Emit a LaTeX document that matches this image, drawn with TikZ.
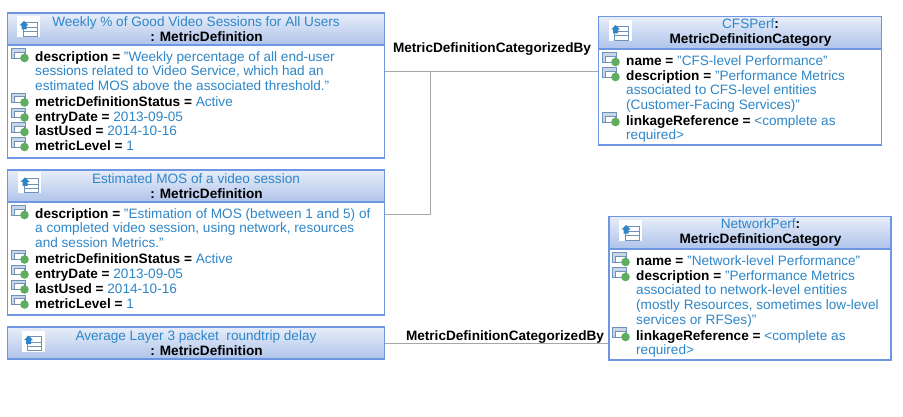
\documentclass[tikz,border=0pt]{standalone}
\usepackage{fontspec}
\setmainfont{Liberation Sans}
\definecolor{linkblue}{HTML}{2E86C8}
\definecolor{boxblue}{HTML}{6F96E2}
\definecolor{headtop}{HTML}{E8EEF9}
\definecolor{headbottom}{HTML}{AFC3EA}
\definecolor{connectgray}{HTML}{A6A6A6}
\definecolor{icongray}{HTML}{6F93B8}
\definecolor{iconfill}{HTML}{C9D6E8}
\definecolor{icongreen}{HTML}{5FAE5F}
\newcommand{\val}[1]{\textcolor{linkblue}{#1}}
\newcommand{\iconroom}{\hspace*{21pt}}
\tikzset{
    header/.style={draw=boxblue, line width=1.4pt, top color=headtop, bottom color=headbottom, minimum height=32pt, inner sep=0pt, align=center, font=\fontsize{13.6}{14.9}\selectfont},
    body/.style={draw=boxblue, line width=1.2pt, fill=white, inner sep=0pt},
    attr/.style={anchor=north west, inner sep=0pt, align=left, font=\fontsize{13.6}{14.9}\selectfont, execute at begin node=\strut},
    connect/.style={draw=connectgray, line width=1pt},
    assoc/.style={inner sep=0pt, font=\fontsize{13.6}{14.9}\selectfont\bfseries},
    pics/attricon/.style={code={
        \draw[icongray, fill=iconfill, line width=0.9pt] (-24,-2.5) rectangle (-10,7);
        \draw[icongray, fill=white, line width=0.7pt] (-21,1) rectangle (-11,7);
        \fill[icongreen] (-10.5,7) circle (4.3);
    }},
    pics/classicon/.style={code={
        \fill[white] (-11.5,-10.5) rectangle (11.5,10.5);
        \draw[icongray, fill=white, line width=0.9pt] (-5.5,-4.5) rectangle (8.5,9.5);
        \draw[icongray, line width=0.9pt] (-5.5,1) -- (8.5,1);
        \draw[icongray, line width=0.9pt] (-5.5,5) -- (8.5,5);
        \fill[linkblue] (-9,-1) -- (-4.5,-5.5) -- (0,-1) -- (-2,-1) -- (-2,3) -- (-7,3) -- (-7,-1) -- cycle;
    }},
}
\begin{document}
\begin{tikzpicture}[x=1pt, y=-1pt]
    \useasboundingbox (0,0) rectangle (903,417);

    % metric definitions
    \node[body, minimum width=376.5pt, minimum height=114pt] (oneBody) at (196,101) {};
    \node[header, minimum width=376.5pt] (oneHead) at (196,29) {\val{Weekly \% of Good Video Sessions for All Users}\\\iconroom\textbf{: MetricDefinition}};
    \node[body, minimum width=376.5pt, minimum height=113pt] (twoBody) at (196,258.5) {};
    \node[header, minimum width=376.5pt] (twoHead) at (196,186) {\val{Estimated MOS of a video session}\\\iconroom\textbf{: MetricDefinition}};
    \node[header, minimum width=376.5pt] (avgHead) at (196,343) {\val{Average Layer 3 packet\ \ roundtrip delay}\\\iconroom\textbf{: MetricDefinition}};

    % categories
    \node[body, minimum width=282.5pt, minimum height=96pt] (cfsBody) at (740,97) {};
    \node[header, minimum width=282.5pt] (cfsHead) at (740,32.5) {\iconroom\val{CFSPerf}\textbf{:}\\\iconroom\textbf{MetricDefinitionCategory}};
    \node[body, minimum width=282pt, minimum height=111pt] (netBody) at (750,304.5) {};
    \node[header, minimum width=282pt] (netHead) at (750,232.5) {\iconroom\val{NetworkPerf}\textbf{:}\\\iconroom\textbf{MetricDefinitionCategory}};

    % attributes
    \node[attr] (oneDesc) at (35,51) {\textbf{description =} \val{"Weekly percentage of all end-user}\\\val{sessions related to Video Service, which had an}\\\val{estimated MOS above the associated threshold."}};
    \node[attr] (oneStatus) at (35,95.5) {\textbf{metricDefinitionStatus =} \val{Active}};
    \node[attr] (oneEntry) at (35,110.5) {\textbf{entryDate =} \val{2013-09-05}};
    \node[attr] (oneUsed) at (35,125) {\textbf{lastUsed =} \val{2014-10-16}};
    \node[attr] (oneLevel) at (35,140) {\textbf{metricLevel =} \val{1}};

    \node[attr] (twoDesc) at (35,208) {\textbf{description =} \val{"Estimation of MOS (between 1 and 5) of}\\\val{a completed video session, using network, resources}\\\val{and session Metrics."}};
    \node[attr] (twoStatus) at (35,252.5) {\textbf{metricDefinitionStatus =} \val{Active}};
    \node[attr] (twoEntry) at (35,267.5) {\textbf{entryDate =} \val{2013-09-05}};
    \node[attr] (twoUsed) at (35,282.5) {\textbf{lastUsed =} \val{2014-10-16}};
    \node[attr] (twoLevel) at (35,297.5) {\textbf{metricLevel =} \val{1}};

    \node[attr] (cfsName) at (626,55) {\textbf{name =} \val{"CFS-level Performance"}};
    \node[attr] (cfsDesc) at (626,70) {\textbf{description =} \val{"Performance Metrics}\\\val{associated to CFS-level entities}\\\val{(Customer-Facing Services)"}};
    \node[attr] (cfsLink) at (626,115) {\textbf{linkageReference =} \val{<complete as}\\\val{required>}};

    \node[attr] (netName) at (636,255) {\textbf{name =} \val{"Network-level Performance"}};
    \node[attr] (netDesc) at (636,270) {\textbf{description =} \val{"Performance Metrics}\\\val{associated to network-level entities}\\\val{(mostly Resources, sometimes low-level}\\\val{services or RFSes)"}};
    \node[attr] (netLink) at (636,330) {\textbf{linkageReference =} \val{<complete as}\\\val{required>}};

    \foreach \n in {oneDesc, oneStatus, oneEntry, oneUsed, oneLevel, twoDesc, twoStatus, twoEntry, twoUsed, twoLevel, cfsName, cfsDesc, cfsLink, netName, netDesc, netLink}
        \pic at (\n.north west) {attricon};

    \pic at (28.5,26.5) {classicon};
    \pic at (29.5,183) {classicon};
    \pic at (33,341) {classicon};
    \pic at (620,30.5) {classicon};
    \pic at (630.5,230.5) {classicon};

    % connectors
    \coordinate (oneOut) at (430,72);
    \coordinate (twoOut) at (430,215);
    \draw[connect] (oneBody.east |- oneOut) -- (cfsBody.west |- oneOut);
    \draw[connect] (twoBody.east |- twoOut) -- (twoOut) -- (oneOut);
    \draw[connect] (avgHead.east) -- (netBody.west |- avgHead.east);

    \node[assoc] (oneAssoc) at (492,49) {MetricDefinitionCategorizedBy};
    \node[assoc] (avgAssoc) at (505,337) {MetricDefinitionCategorizedBy};
\end{tikzpicture}
\end{document}
